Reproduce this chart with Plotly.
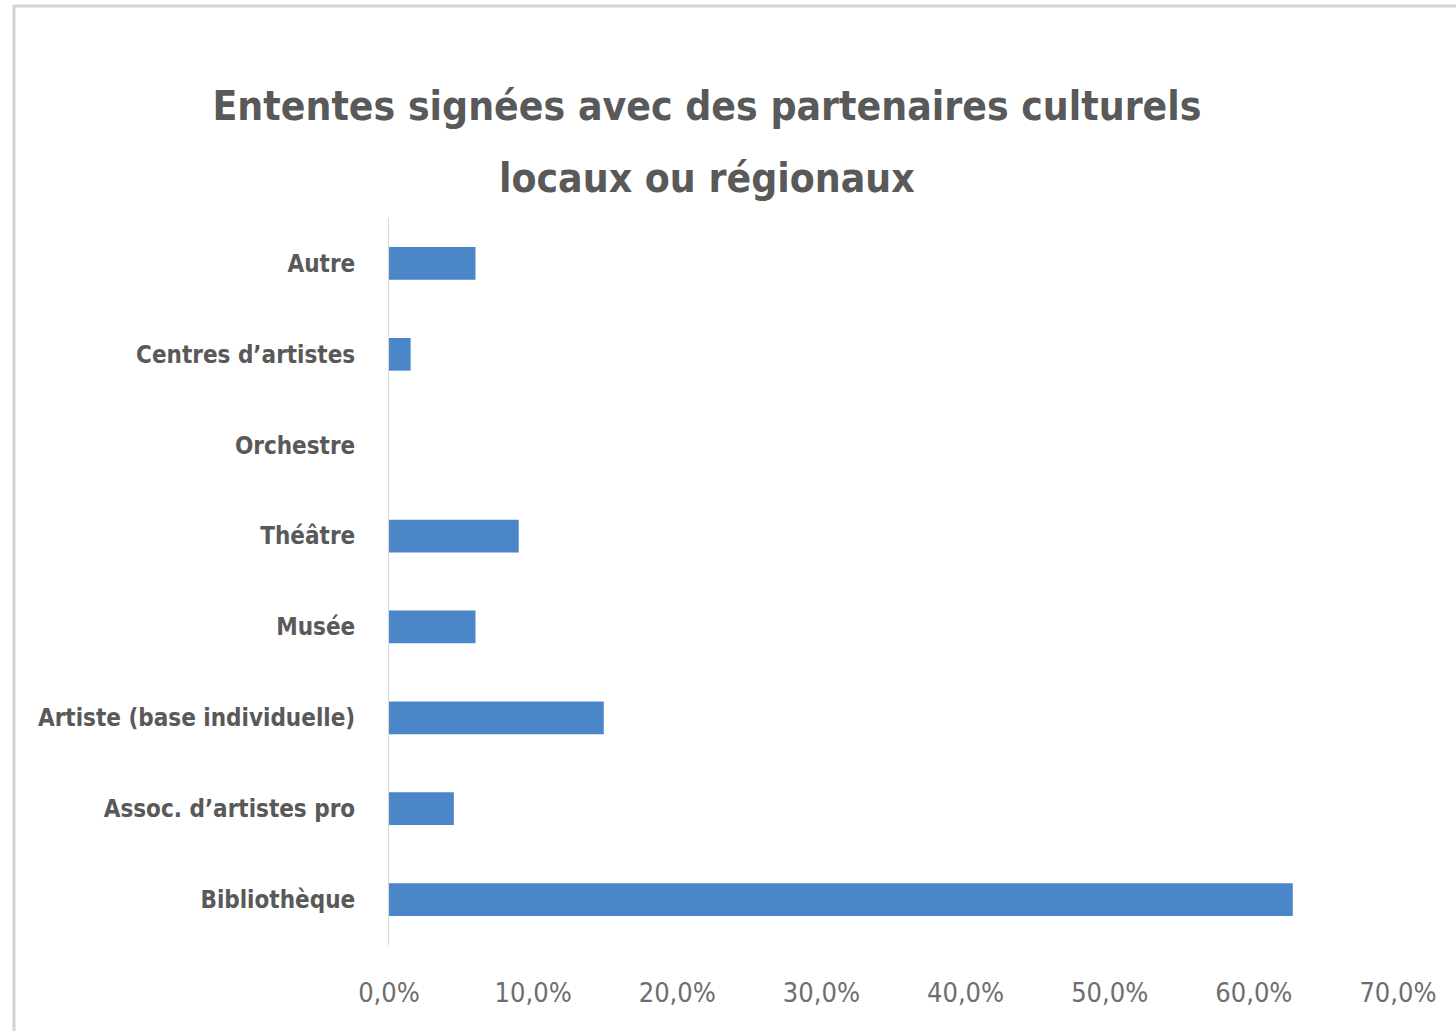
import plotly.graph_objects as go

categories = ["Bibliothèque", "Assoc. d’artistes pro", "Artiste (base individuelle)", "Musée",
              "Théâtre", "Orchestre", "Centres d’artistes", "Autre"]
values = [0.627, 0.045, 0.149, 0.060, 0.090, 0.0, 0.015, 0.060]
x_ticks = [0, 0.1, 0.2, 0.3, 0.4, 0.5, 0.6, 0.7]
title_lines = ["Ententes signées avec des partenaires culturels", "locaux ou régionaux"]

TEXT = "#595959"
FONT = "DejaVu Sans Condensed, Roboto Condensed, Liberation Sans Narrow, Roboto"

fig = go.Figure(go.Bar(
    y=categories, x=values, orientation="h",
    marker=dict(color="#4a86c8", line=dict(width=0)),
    width=0.36,
))

W, H = 1456, 1031
L, R, T, B = 389, 58, 218, 86
pw, ph = W - L - R, H - T - B

def px(x):
    return (x - L) / pw

def py(y):
    return (H - B - y) / ph

fig.update_layout(
    width=W, height=H,
    margin=dict(l=L, r=R, t=T, b=B),
    paper_bgcolor="white", plot_bgcolor="white",
    separators=", ",
    showlegend=False,
    title=dict(
        text="<b>" + title_lines[0] + "</b>",
        x=707 / W, xref="container", xanchor="center",
        y=1 - 106 / H, yanchor="middle",
        font=dict(family=FONT, size=40.5, color=TEXT),
    ),
    annotations=[
        dict(text="<b>" + title_lines[1] + "</b>", showarrow=False,
             xref="paper", yref="paper", x=px(707), y=py(178),
             xanchor="center", yanchor="middle",
             font=dict(family=FONT, size=40.5, color=TEXT)),
    ],
    xaxis=dict(
        range=[0, 0.7], tickvals=x_ticks, tickformat=".1%",
        showgrid=False, zeroline=False, showline=False,
        ticks="", ticklabelstandoff=29,
        tickfont=dict(family=FONT, size=27, color="#6e6e6e"),
        fixedrange=True,
    ),
    yaxis=dict(
        categoryorder="array", categoryarray=categories,
        showgrid=False, zeroline=False,
        showline=True, linecolor="#d9d9d9", linewidth=1,
        ticks="", ticklabelstandoff=28,
        tickfont=dict(family=FONT, size=24, color=TEXT, weight="bold"),
        fixedrange=True,
    ),
    shapes=[
        dict(type="rect", xref="paper", yref="paper",
             x0=px(14), x1=px(W + 20), y0=py(H + 20), y1=py(6),
             line=dict(color="#d4d4d4", width=3), fillcolor="rgba(0,0,0,0)",
             layer="below"),
    ],
)

fig.write_html("out.html", config={"displayModeBar": False},
               post_script="document.body.style.margin='0';document.body.style.overflow='hidden';")
